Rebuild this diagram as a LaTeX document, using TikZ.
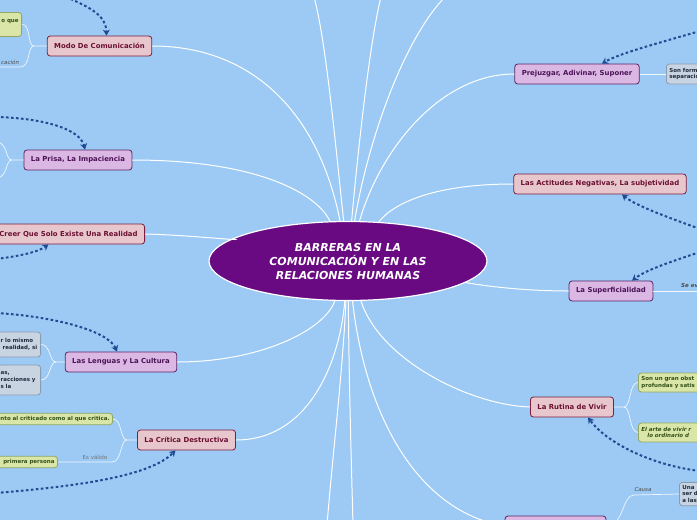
\documentclass[tikz,border=0pt]{standalone}
\usepackage{fontspec}
\setmainfont{DejaVu Sans}
\usetikzlibrary{arrows.meta,positioning,calc,shapes.geometric}
\definecolor{cbg}{HTML}{9CCAF4}
\definecolor{chub}{HTML}{6A0A82}
\definecolor{cpink}{HTML}{E8C6CE}
\definecolor{cpinkd}{HTML}{7B1D3B}
\definecolor{cpinkt}{HTML}{6B1030}
\definecolor{clila}{HTML}{DAB8E3}
\definecolor{clilad}{HTML}{5B2466}
\definecolor{clilat}{HTML}{4B1356}
\definecolor{cgreen}{HTML}{D9E6A7}
\definecolor{cgreend}{HTML}{93A85E}
\definecolor{cgreent}{HTML}{34501A}
\definecolor{cgrey}{HTML}{C9D4E3}
\definecolor{cgreyd}{HTML}{8B9BB0}
\definecolor{cgreyt}{HTML}{1F2B3A}
\definecolor{carrow}{HTML}{1E4B93}
\tikzset{
  hub/.style={ellipse, draw=white, line width=1.2pt, fill=chub, text=white,
              font=\fontsize{11}{14}\selectfont\bfseries\itshape, align=center,
              minimum width=278pt, minimum height=79pt, inner sep=0pt},
  topic/.style={rectangle, rounded corners=3pt, line width=0.8pt,
                font=\fontsize{6.9}{8}\selectfont\bfseries, minimum height=20pt,
                inner xsep=7pt, inner ysep=3pt},
  tpink/.style={topic, draw=cpinkd, fill=cpink, text=cpinkt},
  tlila/.style={topic, draw=clilad, fill=clila, text=clilat},
  leaf/.style={rectangle, rounded corners=3pt, line width=0.8pt, align=left,
               font=\fontsize{5.5}{6.6}\selectfont\bfseries, inner sep=3pt},
  lgreen/.style={leaf, draw=cgreend, fill=cgreen, text=cgreent},
  lgrey/.style={leaf, draw=cgreyd, fill=cgrey, text=cgreyt},
  wl/.style={draw=white, line width=1pt},
  wt/.style={draw=white!85!cbg, line width=0.7pt},
  arr/.style={-{Stealth[length=6pt,width=7pt]}, draw=carrow, line width=2pt,
              dash pattern=on 2.6pt off 2.4pt},
  elbl/.style={font=\fontsize{5.5}{6.5}\selectfont, text=black!70, inner sep=1pt}
}

\begin{document}
\begin{tikzpicture}[x=1pt,y=-1pt]
\useasboundingbox (0,0) rectangle (697,520);
\clip (0,0) rectangle (697,520);
\fill[cbg] (0,0) rectangle (697,520);

\node[hub] (hub) at (348,261) {BARRERAS EN LA\\COMUNICACIÓN Y EN LAS\\RELACIONES HUMANAS};

\node[tpink] (modo) at (99.5,46) {Modo De Comunicación};
\node[tlila] (prisa) at (78,160) {La Prisa, La Impaciencia};
\node[tpink, anchor=east] (creer) at (145,234) {Creer Que Solo Existe Una Realidad};
\node[tlila] (lenguas) at (121,362) {Las Lenguas y La Cultura};
\node[tpink] (critica) at (186.5,440) {La Crítica Destructiva};
\node[tlila] (prejuz) at (577,74) {Prejuzgar, Adivinar, Suponer};
\node[tpink] (actit) at (600,184) {Las Actitudes Negativas, La subjetividad};
\node[tlila] (superf) at (611,291) {La Superficialidad};
\node[tpink] (rutina) at (572,407) {La Rutina de Vivir};
\node[tlila, minimum width=101pt] (bottom) at (555.5,526) {};

\node[lgreen, anchor=north east, align=right, text width=36pt, minimum height=24pt] (gmodo) at (22,12) {o que\\\mbox{}};
\node[lgrey, anchor=east, text width=37pt, minimum height=25pt] (len1) at (41,344.5) {r lo mismo\\\hspace*{2pt}realidad, si};
\node[lgrey, anchor=east, text width=37pt, minimum height=30pt] (len2) at (41,380) {as,\\racciones y\\s la};
\node[lgreen, anchor=east, text width=118pt, align=right] (crit1) at (113,419) {nto al criticado como al que critica.};
\node[lgreen, anchor=east, text width=62pt, align=right] (crit2) at (58,462) {primera persona};
\node[lgrey, anchor=west, text width=50pt, minimum height=20pt] (prej1) at (666,74) {Son form\\separació};
\node[lgreen, anchor=west, text width=70pt, minimum height=19pt] (rut1) at (638,382.5) {Son un gran obst\\profundas y satis};
\node[lgreen, anchor=west, text width=70pt, minimum height=19pt, font=\fontsize{5.5}{6.6}\selectfont\bfseries\itshape] (rut2) at (638,432.5) {El arte de vivir r\\\hspace*{6pt}lo ordinario d};
\node[lgrey, anchor=west, text width=30pt, minimum height=22pt] (causa1) at (679,494) {Una\\ser d\\a las};

\node[elbl, anchor=south west, font=\fontsize{5.5}{6.5}\selectfont\itshape] (lcac) at (0,66) {cación};
\node[elbl, text=black!55] (lval) at (95,457) {Es válido};
\node[elbl, anchor=south west, font=\fontsize{5.5}{6.5}\selectfont\bfseries\itshape] (lsev) at (680,289) {Se ev};
\node[elbl, font=\fontsize{5.5}{6.5}\selectfont\itshape] (lcau) at (643,489.5) {Causa};

\coordinate (top1) at (314,-3);
\coordinate (top2) at (381,-3);
\coordinate (top3) at (448,-6);
\coordinate (bot1) at (327,525);
\coordinate (bot2) at (353,525);
\coordinate (mo2) at (-5,67);
\coordinate (pr1) at (-4,142);
\coordinate (pr2) at (-4,178);
\coordinate (sevend) at (702,291);

\draw[wl] (top1) .. controls (326,40) and (336,150) .. (hub);
\draw[wl] (top2) .. controls (370,40) and (358,150) .. (hub);
\draw[wl] (top3) .. controls (405,35) and (368,140) .. (hub);
\draw[wl] (modo.east) .. controls (250,46) and (318,110) .. (hub);
\draw[wl] (prisa.east) .. controls (260,160) and (318,195) .. (hub);
\draw[wl] (creer.east) .. controls (190,235) and (250,242) .. (hub);
\draw[wl] (lenguas.east) .. controls (260,362) and (325,330) .. (hub);
\draw[wl] (critica.east) .. controls (310,440) and (340,360) .. (hub);
\draw[wl] (hub) .. controls (342,380) and (333,450) .. (bot1);
\draw[wl] (hub) .. controls (349,380) and (351,450) .. (bot2);
\draw[wl] (hub) .. controls (366,420) and (420,512) .. (bottom.west);
\draw[wl] (prejuz.west) .. controls (440,74) and (380,150) .. (hub);
\draw[wl] (actit.west) .. controls (430,184) and (392,205) .. (hub);
\draw[wl] (superf.west) .. controls (530,291) and (490,287) .. (hub);
\draw[wl] (rutina.west) .. controls (470,405) and (380,360) .. (hub);

\draw[wt] (modo.west) -- (34,46) .. controls (27,46) and (31,24) .. (gmodo.east);
\draw[wt] (34,46) .. controls (27,46) and (31,67) .. (20,67) -- (mo2);
\draw[wt] (prisa.west) -- (12,160) .. controls (5,160) and (8,142) .. (pr1);
\draw[wt] (12,160) .. controls (5,160) and (8,178) .. (pr2);
\draw[wt] (lenguas.west) -- (56,362) .. controls (49,362) and (51,344.5) .. (len1.east);
\draw[wt] (56,362) .. controls (49,362) and (51,380) .. (len2.east);
\draw[wt] (critica.west) -- (127,440) .. controls (120,440) and (122,419) .. (crit1.east);
\draw[wt] (127,440) .. controls (120,440) and (122,462) .. (112,462) -- (crit2.east);
\draw[wt] (prejuz.east) -- (prej1.west);
\draw[wt] (superf.east) -- (sevend);
\draw[wt] (rutina.east) -- (624,407) .. controls (631,407) and (629,382.5) .. (rut1.west);
\draw[wt] (624,407) .. controls (631,407) and (629,432.5) .. (rut2.west);
\draw[wt] (bottom.east) .. controls (624,526) and (622,495) .. (634,495) -- (causa1.west);

\coordinate (s1) at (66,-3);
\coordinate (s2) at (-4,117);
\coordinate (s3) at (-4,259);
\coordinate (s4) at (-4,313);
\coordinate (s5) at (-4,493);
\coordinate (s6) at (700,31);
\coordinate (s7) at (700,229);
\coordinate (s8) at (700,252);
\coordinate (s9) at (700,471);

\draw[arr] (s1) .. controls (92,8) and (106,16) .. ($(modo.north)+(7,0)$);
\draw[arr] (s2) .. controls (40,118) and (80,128) .. ($(prisa.north)+(7,0)$);
\draw[arr] (s3) .. controls (20,256) and (38,252) .. ($(creer.south)+(-20,0)$);
\draw[arr] (s4) .. controls (50,316) and (108,330) .. ($(lenguas.north)+(-4,0)$);
\draw[arr] (s5) .. controls (80,486) and (150,476) .. ($(critica.south)+(-11,0)$);
\draw[arr] (s6) .. controls (655,44) and (618,54) .. ($(prejuz.north)+(25,0)$);
\draw[arr] (s7) .. controls (670,218) and (636,206) .. ($(actit.south)+(22,0)$);
\draw[arr] (s8) .. controls (670,262) and (646,270) .. ($(superf.north)+(21,0)$);
\draw[arr] (s9) .. controls (650,465) and (606,442) .. ($(rutina.south)+(16,0)$);
\end{tikzpicture}
\end{document}
